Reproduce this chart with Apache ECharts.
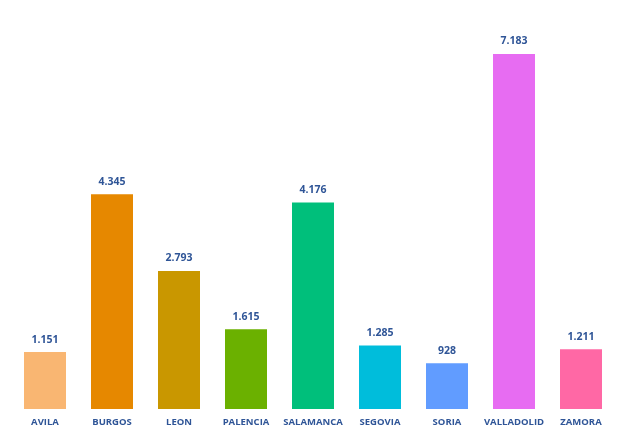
<!DOCTYPE html>
<html>
<head>
<meta charset="utf-8">
<script src="https://cdn.jsdelivr.net/npm/echarts@6/dist/echarts.min.js"></script>
<style>
  html, body { margin: 0; padding: 0; background: #fff; }
  #chart { width: 629px; height: 435px; }
</style>
</head>
<body>
<div id="chart"></div>
<script>
// provincias y valores
var provincias = ['AVILA', 'BURGOS', 'LEON', 'PALENCIA', 'SALAMANCA', 'SEGOVIA', 'SORIA', 'VALLADOLID', 'ZAMORA'];
var valores = [1151, 4345, 2793, 1615, 4176, 1285, 928, 7183, 1211];
var colores = ['#F9B672', '#E68800', '#C99700', '#6BB100', '#00BF7B', '#00BDDB', '#619CFF', '#E76CF2', '#FF68A5'];

// separador de miles con punto
function miles(v) {
    return String(v).replace(/\B(?=(\d{3})+(?!\d))/g, '.');
}

var myChart = echarts.init(document.getElementById('chart'));

var option = {
    animation: false,
    grid: {
        left: 11.5,
        right: 14.5,
        top: 13.6,
        bottom: 26
    },
    xAxis: {
        type: 'category',
        data: provincias,
        axisLine: { show: false },
        axisTick: { show: false },
        axisLabel: {
            color: '#2F5597',
            fontFamily: 'Open Sans',
            fontWeight: 'bold',
            fontSize: 9.5,
            margin: 8,
            interval: 0
        }
    },
    yAxis: {
        type: 'value',
        min: 0,
        max: 8000,
        show: false,
        splitLine: { show: false }
    },
    series: [{
        type: 'bar',
        barWidth: 42,
        data: valores.map(function (v, i) {
            return { value: v, itemStyle: { color: colores[i] } };
        }),
        label: {
            show: true,
            position: 'top',
            distance: 7,
            color: '#2F5597',
            fontFamily: 'Open Sans',
            fontWeight: 'bold',
            fontSize: 10.5,
            formatter: function (p) { return miles(p.value); }
        }
    }]
};
myChart.setOption(option);
</script>
</body>
</html>
